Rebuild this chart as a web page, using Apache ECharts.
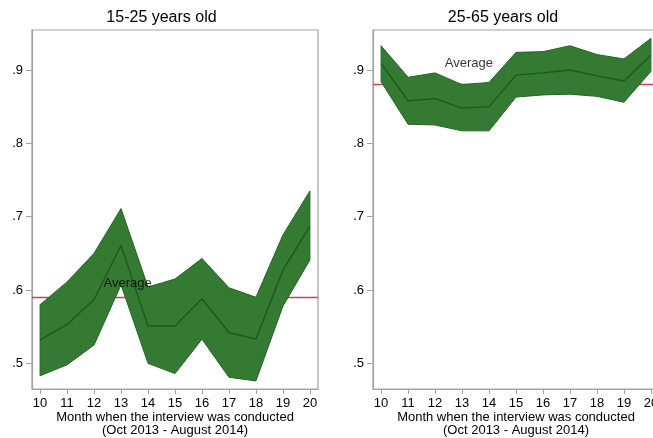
<!DOCTYPE html>
<html>
<head>
<meta charset="utf-8">
<script src="https://cdn.jsdelivr.net/npm/echarts@6/dist/echarts.min.js"></script>
<style>
  html, body { margin: 0; padding: 0; background: #fff; }
  #chart { width: 653px; height: 438px; }
</style>
</head>
<body>
<div id="chart"></div>
<script>
// Survey month index (10 = Oct 2013 ... 20 = Aug 2014)
const months = [10, 11, 12, 13, 14, 15, 16, 17, 18, 19, 20];

// 15-25 years old: estimated share with 95% band
const youngMean  = [0.532, 0.553, 0.587, 0.661, 0.551, 0.551, 0.588, 0.542, 0.533, 0.627, 0.687];
const youngUpper = [0.580, 0.611, 0.650, 0.711, 0.604, 0.615, 0.643, 0.603, 0.590, 0.675, 0.735];
const youngLower = [0.483, 0.498, 0.525, 0.607, 0.500, 0.486, 0.533, 0.481, 0.476, 0.578, 0.641];
const youngAverage = 0.590;

// 25-65 years old
const adultMean  = [0.909, 0.858, 0.861, 0.848, 0.850, 0.893, 0.896, 0.900, 0.892, 0.885, 0.920];
const adultUpper = [0.933, 0.890, 0.896, 0.880, 0.883, 0.924, 0.925, 0.933, 0.921, 0.915, 0.943];
const adultLower = [0.884, 0.826, 0.825, 0.817, 0.817, 0.863, 0.866, 0.867, 0.864, 0.856, 0.898];
const adultAverage = 0.8846;

const yTicks = [0.5, 0.6, 0.7, 0.8, 0.9];
const panelTitles = ['15-25 years old', '25-65 years old'];
const xTitle = 'Month when the interview was conducted\n(Oct 2013 - August 2014)';
const averageText = 'Average';
// where the "Average" note sits in each panel (month, share)
const youngNoteAt = [12.33, 0.6095];
const adultNoteAt = [12.34, 0.909];

const FONT = '"Liberation Sans", Arial, Helvetica, sans-serif';
const AXIS_GREY = '#a3a3a3';
const BAND_FILL = '#357a33';
const BAND_EDGE = '#1d681d';
const MEAN_LINE = '#165e16';
const AVG_LINE = '#c8406a';

// panel frames (pixels)
const PANEL_LEFT = [32, 373];
const PANEL_TOP = 30, PANEL_W = 286, PANEL_H = 359;

function bandRenderer(upper, lower) {
  return function (params, api) {
    const pts = [];
    for (let i = 0; i < months.length; i++) pts.push(api.coord([months[i], upper[i]]));
    for (let i = months.length - 1; i >= 0; i--) pts.push(api.coord([months[i], lower[i]]));
    return {
      type: 'polygon',
      shape: { points: pts },
      style: { fill: BAND_FILL, stroke: BAND_EDGE, lineWidth: 1 }
    };
  };
}

function xAxisFor(gridIndex) {
  return {
    type: 'value', gridIndex, min: 9.7, max: 20.3,
    axisLine: { show: true, lineStyle: { color: AXIS_GREY, width: 1.2 } },
    axisTick: { show: true, inside: false, length: 5, customValues: months, lineStyle: { color: AXIS_GREY } },
    axisLabel: { customValues: months, margin: 8, fontFamily: FONT, fontSize: 13, color: '#000' },
    splitLine: { show: false }
  };
}

function yAxisFor(gridIndex) {
  return {
    type: 'value', gridIndex, min: 0.465, max: 0.9545,
    axisLine: { show: true, lineStyle: { color: AXIS_GREY, width: 1.2 } },
    axisTick: { show: true, inside: false, length: 6, customValues: yTicks, lineStyle: { color: AXIS_GREY } },
    axisLabel: {
      customValues: yTicks, margin: 9, fontFamily: FONT, fontSize: 13, color: '#000',
      formatter: v => v.toFixed(1).replace(/^0/, '')
    },
    splitLine: { show: false }
  };
}

function panelSeries(idx, mean, upper, lower, avg, noteAt) {
  return [
    {
      type: 'line', xAxisIndex: idx, yAxisIndex: idx, data: [], z: 1,
      markLine: {
        silent: true, symbol: 'none', animation: false, z: 1,
        label: { show: false },
        lineStyle: { color: AVG_LINE, width: 1.3, type: 'solid' },
        data: [{ yAxis: avg }]
      }
    },
    {
      type: 'custom', xAxisIndex: idx, yAxisIndex: idx, z: 2,
      renderItem: bandRenderer(upper, lower),
      data: [[months[0], upper[0]]]
    },
    {
      type: 'line', xAxisIndex: idx, yAxisIndex: idx, z: 3,
      data: months.map((m, i) => [m, mean[i]]),
      symbol: 'none', lineStyle: { color: MEAN_LINE, width: 1.4 }
    },
    {
      type: 'scatter', xAxisIndex: idx, yAxisIndex: idx, z: 4,
      data: [noteAt], symbolSize: 1, itemStyle: { color: 'rgba(0,0,0,0)' },
      label: {
        show: true, position: 'right', distance: 0, formatter: averageText,
        fontFamily: FONT, fontSize: 13, color: '#000'
      }
    }
  ];
}

function gridFor(i) {
  return {
    left: PANEL_LEFT[i], top: PANEL_TOP, width: PANEL_W, height: PANEL_H, show: true,
    borderColor: AXIS_GREY, borderWidth: 1.2, backgroundColor: '#fff',
    outerBoundsMode: 'none', containLabel: false
  };
}

function xTitleFor(i) {
  return {
    type: 'text', x: PANEL_LEFT[i] + PANEL_W / 2, y: 411,
    style: { text: xTitle, align: 'center', verticalAlign: 'top', lineHeight: 13, font: '13px ' + FONT, fill: '#000' }
  };
}

const chart = echarts.init(document.getElementById('chart'), null, { renderer: 'canvas' });
chart.setOption({
  animation: false,
  backgroundColor: '#fff',
  grid: [gridFor(0), gridFor(1)],
  xAxis: [xAxisFor(0), xAxisFor(1)],
  yAxis: [yAxisFor(0), yAxisFor(1)],
  graphic: [
    { type: 'text', x: 161.5, y: 10, style: { text: panelTitles[0], align: 'center', verticalAlign: 'top', font: '16px ' + FONT, fill: '#000' } },
    { type: 'text', x: 503, y: 10, style: { text: panelTitles[1], align: 'center', verticalAlign: 'top', font: '16px ' + FONT, fill: '#000' } },
    xTitleFor(0),
    xTitleFor(1)
  ],
  series: [
    ...panelSeries(0, youngMean, youngUpper, youngLower, youngAverage, youngNoteAt),
    ...panelSeries(1, adultMean, adultUpper, adultLower, adultAverage, adultNoteAt)
  ]
});
</script>
</body>
</html>
